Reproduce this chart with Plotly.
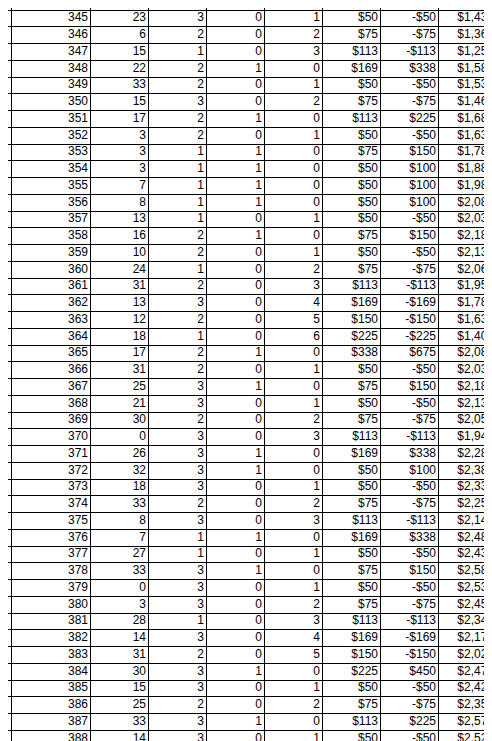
import plotly.graph_objects as go

row_id = list(range(345, 389))
col_b = [23, 6, 15, 22, 33, 15, 17, 3, 3, 3, 7, 8, 13, 16, 10, 24, 31, 13, 12, 18, 17, 31,
         25, 21, 30, 0, 26, 32, 18, 33, 8, 7, 27, 33, 0, 3, 28, 14, 31, 30, 15, 25, 33, 14]
col_c = [3, 2, 1, 2, 2, 3, 2, 2, 1, 1, 1, 1, 1, 2, 2, 1, 2, 3, 2, 1, 2, 2,
         3, 3, 2, 3, 3, 3, 3, 2, 3, 1, 1, 3, 3, 3, 1, 3, 2, 3, 3, 2, 3, 3]
col_d = [0, 0, 0, 1, 0, 0, 1, 0, 1, 1, 1, 1, 0, 1, 0, 0, 0, 0, 0, 0, 1, 0,
         1, 0, 0, 0, 1, 1, 0, 0, 0, 1, 0, 1, 0, 0, 0, 0, 0, 1, 0, 0, 1, 0]
col_e = [1, 2, 3, 0, 1, 2, 0, 1, 0, 0, 0, 0, 1, 0, 1, 2, 3, 4, 5, 6, 0, 1,
         0, 1, 2, 3, 0, 0, 1, 2, 3, 0, 1, 0, 1, 2, 3, 4, 5, 0, 1, 2, 0, 1]
bet = [50, 75, 113, 169, 50, 75, 113, 50, 75, 50, 50, 50, 50, 75, 50, 75, 113, 169, 150, 225, 338, 50,
       75, 50, 75, 113, 169, 50, 50, 75, 113, 169, 50, 75, 50, 75, 113, 169, 150, 225, 50, 75, 113, 50]
result = [-50, -75, -113, 338, -50, -75, 225, -50, 150, 100, 100, 100, -50, 150, -50, -75, -113, -169, -150, -225, 675, -50,
          150, -50, -75, -113, 338, 100, -50, -75, -113, 338, -50, 150, -50, -75, -113, -169, -150, 450, -50, -75, 225, -50]
balance = [1438, 1363, 1250, 1588, 1538, 1463, 1688, 1638, 1788, 1888, 1988, 2088, 2038, 2188, 2138, 2063, 1950, 1781, 1631, 1406, 2081, 2031,
           2181, 2131, 2056, 1944, 2281, 2381, 2331, 2256, 2144, 2481, 2431, 2581, 2531, 2456, 2344, 2175, 2025, 2475, 2425, 2350, 2575, 2525]


def money(v):
    return f"-${-v:,}" if v < 0 else f"${v:,}"


columns = [row_id, col_b, col_c, col_d, col_e,
           [money(v) for v in bet], [money(v) for v in result], [money(v) for v in balance]]

# column borders in page pixels
edges = [3, 82, 140, 198, 256, 314, 372, 430, 488]
n = len(row_id)

fig = go.Figure()
for i, col in enumerate(columns):
    fig.add_trace(go.Scatter(
        x=[edges[i + 1] - 2] * n,
        y=[r + 0.5 for r in range(n)],
        mode="text",
        text=[str(v) for v in col],
        textposition="middle left",
        textfont=dict(family="Liberation Sans, Arial", size=12, color="black"),
        showlegend=False,
        hoverinfo="skip",
    ))

pad = 2 / 16.75
fig.update_xaxes(range=[0, 492], tickvals=edges, showgrid=True, gridcolor="black", gridwidth=1,
                 showticklabels=False, zeroline=False, fixedrange=True)
fig.update_yaxes(range=[n + pad, -pad], tickvals=list(range(n + 1)), showgrid=True, gridcolor="black",
                 gridwidth=1, showticklabels=False, zeroline=False, fixedrange=True)
fig.update_layout(width=492, height=741, margin=dict(l=0, r=0, t=0, b=0),
                  paper_bgcolor="white", plot_bgcolor="white")

fig.write_html("out.html")
